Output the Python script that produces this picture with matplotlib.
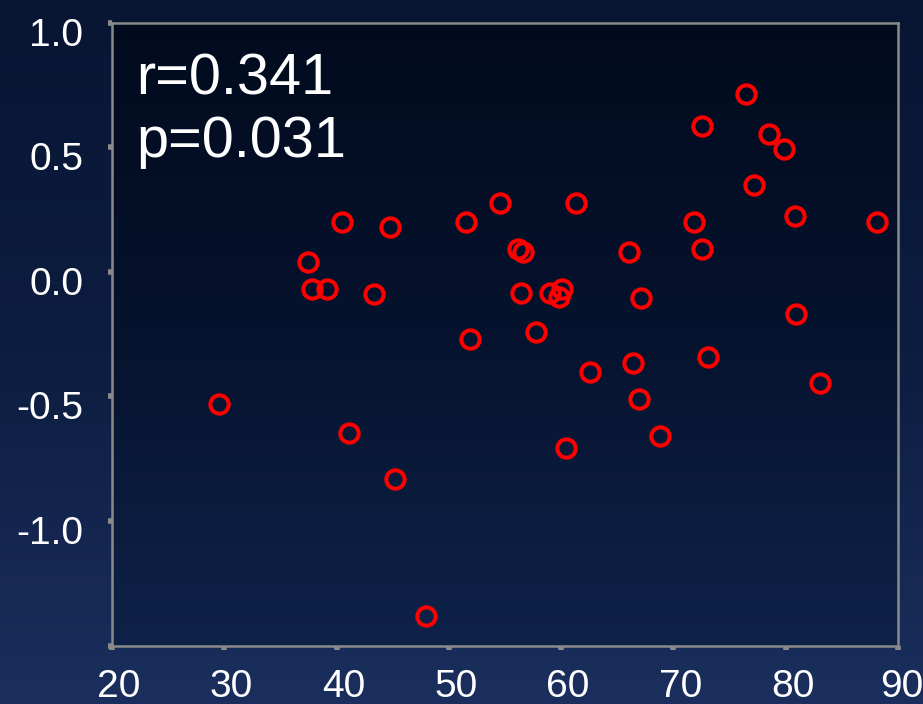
import numpy as np
import matplotlib
matplotlib.use("Agg")
import matplotlib.pyplot as plt
from matplotlib.colors import LinearSegmentedColormap
from matplotlib.transforms import ScaledTranslation

plt.rcParams['font.family'] = ['Liberation Sans', 'DejaVu Sans']

# score (x) vs. change (y)
score = [29.5, 37.45, 37.8, 39.15, 40.5, 41.1, 43.3, 44.8, 45.2, 48.0,
         51.5, 51.9, 54.55, 56.2, 56.6, 56.4, 57.8, 59.0, 59.8, 60.05,
         60.4, 61.3, 62.6, 66.0, 66.4, 67.1, 66.9, 68.8, 71.8, 72.55,
         72.5, 73.1, 76.45, 77.2, 78.55, 79.85, 80.8, 80.95, 83.05, 88.1]
change = [-0.53, 0.04, -0.07, -0.07, 0.20, -0.645, -0.09, 0.18, -0.83, -1.38,
          0.20, -0.27, 0.275, 0.09, 0.08, -0.085, -0.24, -0.085, -0.10, -0.07,
          -0.705, 0.275, -0.40, 0.08, -0.365, -0.105, -0.51, -0.66, 0.20, 0.585,
          0.09, -0.34, 0.715, 0.35, 0.555, 0.495, 0.225, -0.17, -0.445, 0.20]

stats_text = "r=0.341\np=0.031"
xticks = [20, 30, 40, 50, 60, 70, 80, 90]
yticks = [1.0, 0.5, 0.0, -0.5, -1.0, -1.5]
ytick_labels = ["1.0", "0.5", "0.0", "-0.5", "-1.0", ""]

fig = plt.figure(figsize=(9.23, 7.04), dpi=100)

# slide-style background: dark navy fading to lighter blue at the bottom
bg = fig.add_axes([0, 0, 1, 1], zorder=-10)
bg_cmap = LinearSegmentedColormap.from_list("bg", ["#081633", "#0d1d40", "#1b2f5e"])
bg.imshow(np.linspace(0, 1, 256).reshape(-1, 1), aspect="auto", cmap=bg_cmap,
          extent=[0, 1, 0, 1], origin="upper")
bg.axis("off")

ax = fig.add_axes([0.1213, 0.0828, 0.8517, 0.885])
ax.set_xlim(20, 90)
ax.set_ylim(-1.5, 1.0)

plot_cmap = LinearSegmentedColormap.from_list("plotbg", ["#020b1e", "#06132e", "#0f2249"])
ax.imshow(np.linspace(0, 1, 256).reshape(-1, 1), aspect="auto", cmap=plot_cmap,
          extent=[20, 90, -1.5, 1.0], origin="upper", zorder=0)

ax.plot(score, change, linestyle="none", marker="o", markersize=13.2,
        markerfacecolor="none", markeredgecolor="#ff0000", markeredgewidth=2.9,
        zorder=3, clip_on=False)

ax.text(0.031, 0.952, stats_text, transform=ax.transAxes, color="white",
        fontsize=41.5, va="top", ha="left", linespacing=1.2)

for s in ax.spines.values():
    s.set_color("#8a8a8a")
    s.set_linewidth(1.8)

ax.set_xticks(xticks)
ax.set_yticks(yticks)
ax.set_yticklabels(ytick_labels)
ax.tick_params(axis="both", colors="#8a8a8a", length=3, width=4, direction="out",
               labelcolor="white", labelsize=28)
ax.tick_params(axis="y", pad=17.5)
ax.tick_params(axis="x", pad=13.5)

# tick labels sit slightly right of / below their ticks
xlabels = ax.get_xticklabels()
for i, lbl in enumerate(xlabels):
    dx = 4 if i == len(xlabels) - 1 else 7
    lbl.set_transform(lbl.get_transform() + ScaledTranslation(dx / 100, 0, fig.dpi_scale_trans))
for lbl in ax.get_yticklabels():
    lbl.set_transform(lbl.get_transform() + ScaledTranslation(0, -9 / 100, fig.dpi_scale_trans))

fig.savefig("out.png", dpi=100)
